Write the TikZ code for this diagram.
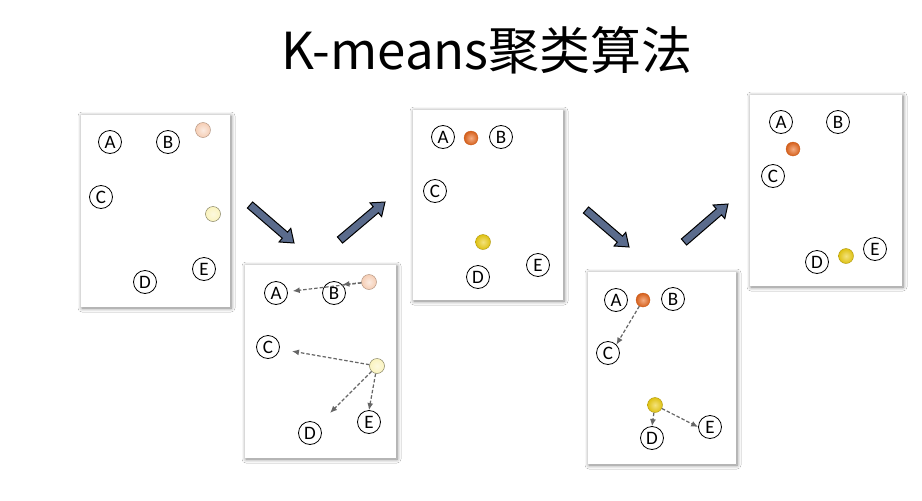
\documentclass[tikz,border=0pt]{standalone}
\usepackage{fontspec}
\setmainfont{Carlito}
\newfontfamily\cjkfont{Noto Sans CJK SC}
\usetikzlibrary{arrows.meta,shadows.blur,calc}
\definecolor{peach}{HTML}{F5CDB4}
\definecolor{lemon}{HTML}{FAF3BE}
\definecolor{orng}{HTML}{EC6A1E}
\definecolor{yell}{HTML}{EACB12}
\definecolor{slate}{HTML}{5A6B8C}
\tikzset{
  panel/.style={draw=none,fill=white,blur shadow={shadow blur steps=6,shadow xshift=1pt,shadow yshift=-1pt,shadow blur radius=4pt,shadow opacity=50}},
  pt/.style={circle,draw=black,line width=0.8pt,minimum size=23pt,inner sep=0pt,font=\fontsize{19}{19}\selectfont},
  cen/.style={circle,minimum size=#1,inner sep=0pt,shading=radial},
  cpeach/.style={cen=15pt,inner color=peach!40!white,outer color=peach,draw=peach!75!black,line width=0.5pt},
  clemon/.style={cen=15pt,inner color=lemon!50!white,outer color=lemon,draw=lemon!55!black,line width=0.5pt},
  corng/.style={cen=14pt,inner color=orng!55!white,outer color=orng!90!black,draw=orng!85!black,line width=0.3pt},
  cyell/.style={cen=15pt,inner color=yell!55!white,outer color=yell!95!black,draw=yell!75!black,line width=0.4pt},
  darr/.style={draw=gray!80!black,line width=1.2pt,dash pattern=on 3.5pt off 2pt,-{Latex[length=7pt,width=6pt]}},
  bigarr/.style={draw=black,line width=1pt,fill=slate},
}
\newcommand{\bigarrow}[3]{%
  \coordinate (#3s) at #1; \coordinate (#3e) at #2;
  \draw[bigarr] let \p1=($(#3e)-(#3s)$), \n1={atan2(\y1,\x1)}, \n2={veclen(\x1,\y1)} in
    [shift={(#3s)},rotate=\n1]
    (0,-4) -- (\n2-12,-4) -- (\n2-12,-9) -- (\n2,0) -- (\n2-12,9) -- (\n2-12,4) -- (0,4) -- cycle;
}
\begin{document}
\begin{tikzpicture}[x=1pt,y=-1pt]
\useasboundingbox[fill=white] (0,0) rectangle (922,501);
\node[font=\cjkfont\fontsize{51}{51}\selectfont] (title) at (487,50) {K-means聚类算法};

% Panel 1
\fill[panel] (81,115) rectangle (230,307);
\node[pt] (a1) at (110,142) {A};
\node[pt] (b1) at (168,142) {B};
\node[pt] (c1) at (101,197) {C};
\node[pt] (d1) at (145,282) {D};
\node[pt] (e1) at (204,269) {E};
\node[cpeach] (k11) at (203,130) {};
\node[clemon] (k12) at (213,214) {};

% Panel 2
\fill[panel] (245,265) rectangle (396,458);
\node[pt] (a2) at (276,293) {A};
\node[pt] (b2) at (334,293) {B};
\node[pt] (c2) at (268,347) {C};
\node[pt] (d2) at (310,433) {D};
\node[pt] (e2) at (369,422) {E};
\node[cpeach] (k21) at (369,282) {};
\node[clemon] (k22) at (377,366) {};
\draw[darr] (k21) -- ($(a2)!0.18!(k21)$);
\draw[darr] (k21) -- (b2.north east);
\draw[darr] (k22) -- ($(c2)!0.22!(k22)$);
\draw[darr] (k22) -- ($(d2)!0.3!(k22)$);
\draw[darr] (k22) -- (e2.north);

% Panel 3
\fill[panel] (413,110) rectangle (563,300);
\node[pt] (a3) at (443,137) {A};
\node[pt] (b3) at (501,137) {B};
\node[pt] (c3) at (435,191) {C};
\node[pt] (d3) at (478,277) {D};
\node[pt] (e3) at (538,265) {E};
\node[corng] (k31) at (471,138) {};
\node[cyell] (k32) at (483,242) {};

% Panel 4
\fill[panel] (588,272) rectangle (736,464);
\node[pt] (a4) at (616,300) {A};
\node[pt] (b4) at (673,299) {B};
\node[pt] (c4) at (608,353) {C};
\node[pt] (d4) at (652,438) {D};
\node[pt] (e4) at (710,427) {E};
\node[corng] (k41) at (643,300) {};
\node[cyell] (k42) at (655,405) {};
\draw[darr] (k41) -- (c4.north east);
\draw[darr] (k42) -- (d4.north);
\draw[darr] (k42) -- (e4.west);

% Panel 5
\fill[panel] (750,95) rectangle (902,286);
\node[pt] (a5) at (781,122) {A};
\node[pt] (b5) at (838,122) {B};
\node[pt] (c5) at (773,176) {C};
\node[pt] (d5) at (817,262) {D};
\node[pt] (e5) at (875,249) {E};
\node[corng] (k51) at (793,149) {};
\node[cyell] (k52) at (846,256) {};

% big arrows
\bigarrow{(250,205)}{(294,243)}{ba1}
\bigarrow{(340,240)}{(385,202)}{ba2}
\bigarrow{(586,210)}{(629,247)}{ba3}
\bigarrow{(684,242)}{(728,204)}{ba4}
\end{tikzpicture}
\end{document}
